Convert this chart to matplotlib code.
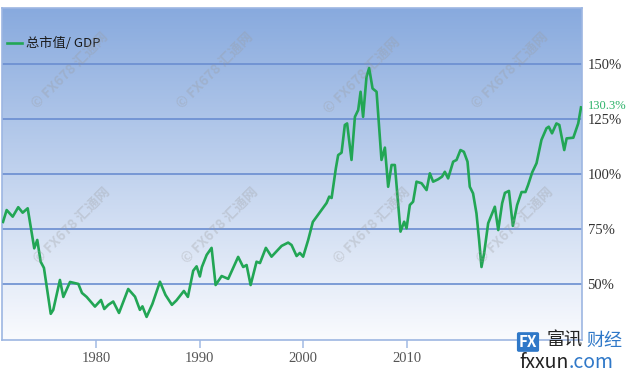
import matplotlib.pyplot as plt
import numpy as np

# total market cap / GDP (year, %)
years = [1971.08, 1971.37, 1971.85, 1972.29, 1972.64, 1973.04, 1973.56, 1973.80, 1974.07, 1974.33,
         1974.87, 1975.07, 1975.60, 1975.87, 1976.40, 1977.06, 1977.35, 1977.72, 1978.38, 1978.86,
         1979.12, 1979.44, 1979.83, 1980.29, 1981.02, 1981.56, 1981.95, 1982.15, 1982.48, 1982.94,
         1983.54, 1983.98, 1984.49, 1984.85, 1985.44, 1985.76, 1986.18, 1986.45, 1986.71, 1986.87,
         1987.25, 1987.64, 1987.96, 1988.44, 1988.96, 1989.75, 1990.15, 1990.42, 1990.74, 1991.21,
         1991.48, 1991.95, 1992.40, 1993.20, 1993.72, 1993.99, 1994.39, 1994.65, 1994.91, 1995.31,
         1995.68, 1996.37, 1996.77, 1996.98, 1997.17, 1997.51, 1997.69, 1997.96, 1998.22, 1998.40,
         1998.75, 1999.02, 1999.28, 1999.47, 1999.67, 1999.94, 2000.15, 2000.42, 2000.74, 2001.13,
         2001.40, 2001.66, 2001.93, 2002.19, 2002.37, 2002.64, 2002.93, 2003.12, 2003.38, 2003.64,
         2003.91, 2004.31, 2004.71, 2004.97, 2005.23, 2005.63, 2005.94, 2006.16, 2006.42, 2006.82,
         2007.09, 2007.40, 2007.67, 2007.96, 2008.14, 2008.40, 2008.67, 2008.88, 2009.07, 2009.28,
         2009.60, 2010.13, 2010.40, 2010.71, 2010.93, 2011.25, 2011.56, 2011.90, 2012.25, 2012.56,
         2012.77, 2013.10, 2013.44, 2013.83, 2014.23, 2014.41, 2014.67, 2015.02, 2015.25, 2015.64,
         2015.83, 2016.36, 2016.75, 2016.97]
ratio = [78.2, 83.6, 80.6, 84.9, 82.4, 84.4, 66.2, 70.0, 60.1, 57.3,
         36.4, 38.2, 51.8, 44.1, 50.9, 50.0, 45.9, 44.1, 39.7, 42.7,
         38.6, 40.5, 42.0, 36.8, 47.7, 44.2, 38.2, 39.8, 35.0, 40.9,
         51.0, 45.0, 40.5, 42.5, 46.8, 44.1, 56.0, 58.0, 53.4, 57.7,
         63.2, 66.4, 49.5, 53.6, 52.3, 62.3, 57.7, 58.6, 49.5, 60.1,
         59.5, 66.4, 62.4, 67.3, 68.8, 67.7, 62.7, 64.1, 62.4, 70.0,
         78.2, 83.6, 86.8, 89.7, 89.1, 102.7, 108.6, 109.7, 122.3, 123.0,
         106.4, 126.0, 129.1, 137.4, 126.0, 144.2, 148.2, 138.9, 137.4, 106.4,
         112.0, 94.2, 104.1, 104.1, 92.0, 73.8, 78.3, 75.3, 85.9, 87.4,
         96.5, 95.8, 92.7, 100.3, 96.5, 97.6, 98.8, 101.0, 98.0, 105.6,
         106.4, 110.9, 110.1, 105.6, 94.2, 91.2, 82.1, 70.0, 57.7, 64.0,
         77.6, 85.1, 74.5, 86.7, 91.4, 92.3, 76.4, 85.9, 91.8, 91.8,
         95.0, 100.8, 104.9, 115.5, 120.8, 121.5, 118.5, 123.0, 122.3, 110.9,
         116.2, 116.5, 123.0, 130.3]

# the source chart's year labels sit off the true dates; keep them where they appear
x_tick_pos = [1978.46, 1986.71, 1994.89, 2003.14]
x_tick_labels = ['1980', '1990', '2000', '2010']
y_ticks = [50, 75, 100, 125, 150]
series_name = '总市值/ GDP'
last_label = '130.3%'

plt.rcParams['font.family'] = ['Noto Sans CJK SC', 'DejaVu Sans']

W, H = 630, 372
fig = plt.figure(figsize=(W / 100, H / 100), dpi=100)
ax = fig.add_axes([2 / W, 32 / H, 580 / W, 332 / H])
x0, x1 = 1971.0, 2017.05
y0, y1 = 24.5, 175.5
ax.set_xlim(x0, x1)
ax.set_ylim(y0, y1)

# vertical gradient background, pale at the bottom, blue at the top
top = np.array([136, 170, 222]) / 255
bot = np.array([250, 251, 254]) / 255
t = np.linspace(0, 1, 256)[:, None]
grad = (bot + (top - bot) * t)[:, None, :]
ax.imshow(grad, extent=[x0, x1, y0, y1], origin='lower', aspect='auto', zorder=0)

ax.set_axisbelow(True)
ax.set_yticks(y_ticks)
ax.set_yticklabels([f"{v}%" for v in y_ticks])
ax.yaxis.tick_right()
ax.yaxis.grid(True, color='#6a8dd0', lw=1.2)
ax.tick_params(axis='y', length=0, pad=4, labelsize=10.5, labelcolor='#333333')
for lab in ax.get_yticklabels():
    lab.set_family('Liberation Serif')

ax.set_xticks(x_tick_pos)
ax.set_xticklabels(x_tick_labels)
ax.tick_params(axis='x', direction='out', length=6, width=1.2, color='#a9c0e6',
               pad=3, labelsize=10.5, labelcolor='#555555')
for lab in ax.get_xticklabels():
    lab.set_family('Liberation Serif')

for s in ax.spines.values():
    s.set_color('#9db6e2')
    s.set_linewidth(1.2)

ax.plot(years, ratio, color='#22a655', lw=1.9, zorder=3, solid_joinstyle='round', label=series_name)

ax.annotate(last_label, xy=(years[-1], ratio[-1]), xytext=(5, 1), textcoords='offset points',
            ha='left', va='center', color='#2db36a', fontsize=9, family='Liberation Serif',
            annotation_clip=False)

leg = ax.legend(loc='upper left', bbox_to_anchor=(-0.008, 0.94), frameon=False, fontsize=9.5,
                handlelength=1.15, handletextpad=0.3, borderaxespad=0.3)
for txt in leg.get_texts():
    txt.set_color('#1a1a1a')

# faint watermarks
for cx, cy in [(70, 70), (215, 70), (362, 75), (510, 70), (72, 225), (220, 225), (372, 225), (515, 225)]:
    fig.text(cx / W, 1 - cy / H, '© FX678 汇通网', rotation=45, ha='center', va='center',
             fontsize=10, fontweight='bold', color='#9a9a9a', alpha=0.3, zorder=5)

# logo in the bottom-right corner
fig.text(528 / W, 1 - 342 / H, 'FX', ha='center', va='center', fontsize=11, fontweight='bold',
         color='white', bbox=dict(boxstyle='round,pad=0.12', fc='#2f78c8', ec='none'))
fig.text(547 / W, 1 - 341 / H, '富讯', ha='left', va='center', fontsize=13, color='#222222',
         family=['Noto Sans CJK SC'])
fig.text(586 / W, 1 - 341 / H, '财经', ha='left', va='center', fontsize=13, color='#2f78c8',
         family=['Noto Sans CJK SC'])
fig.canvas.draw()
t1 = fig.text(519 / W, 1 - 363 / H, 'fxxun', ha='left', va='center', fontsize=14, color='#222222',
              style='italic')
bb = t1.get_window_extent(fig.canvas.get_renderer())
fig.text(bb.x1 / W, 1 - 363 / H, '.com', ha='left', va='center', fontsize=14, color='#2f78c8')

fig.savefig('out.png', dpi=100)
